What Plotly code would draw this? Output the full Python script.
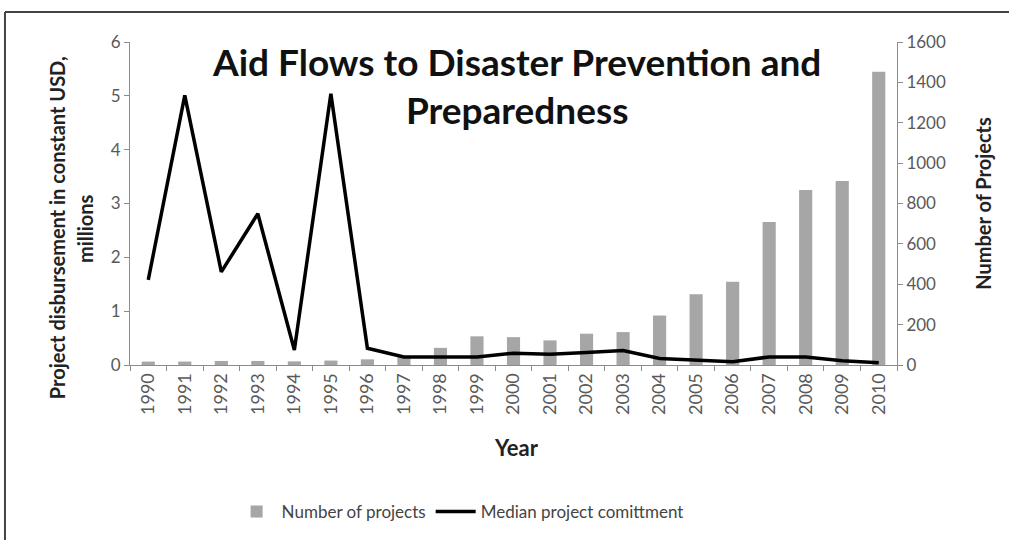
import plotly.graph_objects as go

years = [str(y) for y in range(1990, 2011)]
num_projects = [17, 17, 20, 20, 18, 22, 28, 40, 85, 142, 138, 122, 155, 163, 245, 350, 413, 708, 867, 912, 1453]
median_commit = [1.58, 5.01, 1.73, 2.81, 0.28, 5.04, 0.31, 0.15, 0.15, 0.15, 0.22, 0.20, 0.23, 0.27, 0.12, 0.09, 0.06, 0.15, 0.15, 0.08, 0.04]

FONT = "Lato"
TICKCOL = "#595959"
AXCOL = "#8c8c8c"

fig = go.Figure()
fig.add_trace(go.Bar(x=years, y=num_projects, name="Number of projects",
                     marker=dict(color="#a6a6a6", line=dict(width=0)), width=0.36, yaxis="y"))
fig.add_trace(go.Scatter(x=years, y=median_commit, name="Median project comittment",
                         mode="lines", line=dict(color="black", width=3.5), yaxis="y2"))

fig.update_layout(
    width=1009, height=540,
    margin=dict(l=130, r=112, t=42, b=175),
    paper_bgcolor="white", plot_bgcolor="white",
    font=dict(family=FONT, color="#222"),
    showlegend=True,
    legend=dict(orientation="h", xref="container", yref="container",
                x=0.456, xanchor="center", y=1 - 512 / 540, yanchor="middle",
                font=dict(size=17, color="#444"), traceorder="normal", itemwidth=40),
    xaxis=dict(type="category", showline=True, linecolor=AXCOL, linewidth=1, automargin=False,
               ticks="outside", tickson="boundaries", ticklen=5, tickcolor=AXCOL,
               tickangle=-90, tickfont=dict(size=18, color=TICKCOL), showgrid=False),
    yaxis=dict(side="right", range=[0, 1600], dtick=200, showline=True, linecolor=AXCOL,
               automargin=False, ticks="outside", ticklen=5, tickcolor=AXCOL,
               showgrid=False, zeroline=False, tickfont=dict(size=17, color=TICKCOL)),
    yaxis2=dict(side="left", overlaying="y", range=[0, 6], dtick=1, showline=True, linecolor=AXCOL,
                automargin=False, ticks="outside", ticklen=5, tickcolor=AXCOL,
                showgrid=False, zeroline=False, tickfont=dict(size=17, color=TICKCOL)),
    annotations=[
        dict(text="<b>Aid Flows to Disaster Prevention and<br>Preparedness</b>",
             x=0.504, y=0.864, xref="paper", yref="paper", xanchor="center", yanchor="middle",
             showarrow=False, font=dict(size=37, color="#111", family=FONT)),
        dict(text="<b>Project disbursement in constant USD,</b>", textangle=-90,
             x=-0.095, y=0.424, xref="paper", yref="paper", xanchor="center", yanchor="middle",
             showarrow=False, font=dict(size=20, color="#222", family=FONT)),
        dict(text="<b>millions</b>", textangle=-90,
             x=-0.0587, y=0.424, xref="paper", yref="paper", xanchor="center", yanchor="middle",
             showarrow=False, font=dict(size=20, color="#222", family=FONT)),
        dict(text="<b>Number of Projects</b>", textangle=-90,
             x=1.112, y=0.502, xref="paper", yref="paper", xanchor="center", yanchor="middle",
             showarrow=False, font=dict(size=20, color="#222", family=FONT)),
        dict(text="<b>Year</b>",
             x=0.504, y=-0.254, xref="paper", yref="paper", xanchor="center", yanchor="middle",
             showarrow=False, font=dict(size=22, color="#222", family=FONT)),
    ],
    shapes=[
        dict(type="line", xref="paper", yref="paper", x0=-0.163, x1=1.2, y0=1.093, y1=1.093,
             line=dict(color="#444", width=2)),
        dict(type="line", xref="paper", yref="paper", x0=-0.163, x1=-0.163, y0=1.093, y1=-0.6,
             line=dict(color="#444", width=2)),
    ],
)

fig.write_html("out.html")
